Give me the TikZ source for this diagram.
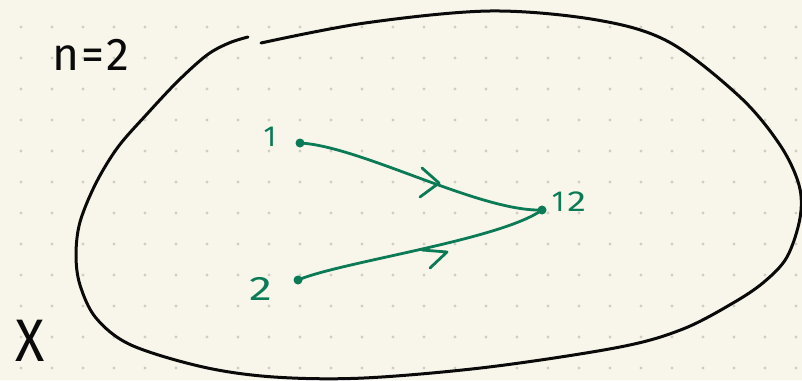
\documentclass[tikz,border=0pt]{standalone}
\usepackage{fontspec}
\setmainfont{Fira Sans}
\definecolor{paper}{HTML}{F8F6EA}
\definecolor{gridc}{HTML}{CFCDC4}
\definecolor{ink}{HTML}{0A0A0A}
\definecolor{gink}{HTML}{0B7A57}
\tikzset{
  blob/.style={draw=ink, line width=3pt, line cap=round, line join=round},
  gline/.style={draw=gink, line width=2.8pt, line cap=round, line join=round},
  gdot/.style={circle, fill=gink, inner sep=0pt, minimum size=9pt},
  glabel/.style={text=gink, inner sep=0pt},
  blabel/.style={text=ink, inner sep=0pt}
}
\begin{document}
\begin{tikzpicture}[x=1pt,y=-1pt]
\useasboundingbox (0,0) rectangle (802,380);
\fill[paper] (0,0) rectangle (802,380);
% dot grid
\foreach \i in {0,...,25}{
  \foreach \j in {0,...,11}{
    \fill[gridc] ({21+31*\i},{27+31*\j}) circle (1.6);
  }
}
% the set X (closed blob with small gap at top-left)
\draw[blob] plot[smooth, tension=0.55] coordinates {
  (261,43) (365,23) (490,11) (597,20) (669,42) (740,97) (780,145)
  (799,185) (800,218) (787,257) (764,282) (733,303) (683,329) (620,347)
  (489,367) (364,378) (274,377) (203,367) (131,345) (96,318) (80,285)
  (76,255) (80,222) (96,183) (118,147) (147,114) (178,81) (207,55)
  (229,43) (248,37)};
% labels
\node[blabel, font=\fontsize{46}{46}\selectfont] (nlab) at (91,55) {n\kern2pt=\kern2pt2};
\node[blabel, font=\fontsize{60}{60}\selectfont] (xlab) at (30,341) {\scalebox{0.9}[1]{X}};
% points
\node[gdot] (n1) at (300,143) {};
\node[gdot] (n2) at (298,280) {};
\node[gdot] (n12) at (542,210) {};
\node[glabel, font=\fontsize{29}{29}\selectfont] (l1) at (270,137) {1};
\node[glabel, font=\fontsize{34}{34}\selectfont] (l2) at (261,289) {\scalebox{1.35}[1]{2}};
\node[glabel, font=\fontsize{29}{29}\selectfont] (l12) at (569,202) {1\kern3pt\scalebox{1.3}[1]{2}};
% paths
\draw[gline] (n1.center) .. controls (360,146) and (480,212) .. (n12.center);
\draw[gline] (n2.center) .. controls (340,262) and (500,240) .. (n12.center);
% chevrons
\draw[gline] (422,168) -- (439,183) -- (420,197);
\draw[gline] (422,250) -- (447,252) -- (430,268);
\end{tikzpicture}
\end{document}
